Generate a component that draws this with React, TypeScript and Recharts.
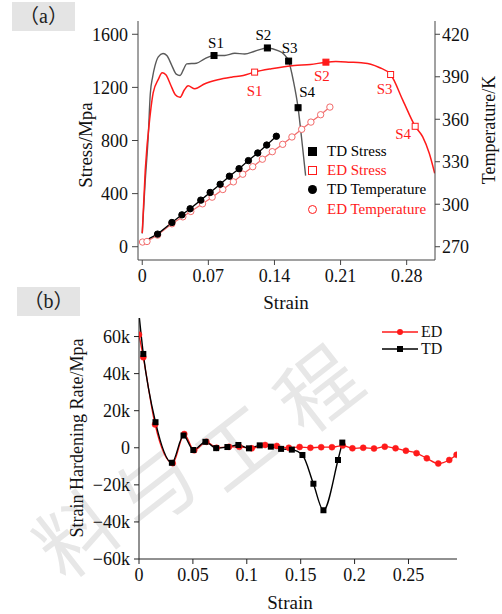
import React from 'react';
import { LineChart, Line, XAxis, YAxis, Legend } from 'recharts';

// ---- panel (a): stress / temperature vs strain ----
const tdStressStrain = [0, 0.003, 0.0063, 0.0085, 0.011, 0.0134, 0.017, 0.022, 0.026, 0.031, 0.036, 0.04, 0.044, 0.047, 0.0574, 0.066, 0.076, 0.0874, 0.098, 0.1085, 0.119, 0.1325, 0.1437, 0.15, 0.155, 0.16, 0.165, 0.169, 0.173];
const tdStressValues = [100, 480, 827, 1150, 1280, 1360, 1430, 1455, 1440, 1370, 1300, 1290, 1340, 1377, 1382, 1415, 1440, 1440, 1457, 1452, 1472, 1497, 1477, 1450, 1398, 1250, 1047, 800, 535];
const tdStressTags = ['', '', '', '', '', '', '', '', '', '', '', '', '', '', '', '', 'S1', '', '', '', '', 'S2', '', '', 'S3', '', 'S4', '', ''];

const edStressStrain = [0, 0.0032, 0.0085, 0.0116, 0.017, 0.0211, 0.025, 0.03, 0.035, 0.04, 0.0445, 0.0486, 0.0557, 0.0663, 0.08, 0.0944, 0.107, 0.119, 0.1367, 0.161, 0.178, 0.1945, 0.205, 0.22, 0.232, 0.242, 0.251, 0.263, 0.276, 0.289, 0.297, 0.304, 0.3097];
const edStressValues = [103, 577, 1000, 1160, 1260, 1310, 1295, 1220, 1145, 1125, 1180, 1212, 1190, 1227, 1257, 1277, 1290, 1315, 1340, 1365, 1372, 1390, 1395, 1390, 1385, 1375, 1350, 1297, 1102, 907, 827, 702, 552];
const edStressTags = ['', '', '', '', '', '', '', '', '', '', '', '', '', '', '', '', '', 'S1', '', '', '', 'S2', '', '', '', '', '', 'S3', '', 'S4', '', '', ''];

const tdTempStrain = [0.0003, 0.0162, 0.0314, 0.042, 0.0507, 0.062, 0.0719, 0.0825, 0.0923, 0.1025, 0.1124, 0.1223, 0.1318, 0.142];
const tdTempValues = [273.3, 278.9, 287.1, 292.5, 296.8, 302.9, 308.3, 314.1, 319.8, 325.1, 330.8, 336.2, 341.8, 348.0];

const edTempStrain = [0.0003, 0.005, 0.0162, 0.0314, 0.043, 0.0514, 0.0638, 0.074, 0.0853, 0.0965, 0.1064, 0.117, 0.1272, 0.1377, 0.1487, 0.1585, 0.1688, 0.1786, 0.1889, 0.1987];
const edTempValues = [273.3, 273.7, 278.2, 286.2, 291.1, 294.9, 300.3, 305.0, 310.4, 315.8, 321.2, 326.5, 331.8, 337.1, 342.3, 347.5, 352.9, 358.0, 363.2, 368.6];

const strainTicksA = [0, 0.07, 0.14, 0.21, 0.28];
const strainMinorA = [0.035, 0.105, 0.175, 0.245];
const stressTicks = [0, 400, 800, 1200, 1600];
const stressMinor = [200, 600, 1000, 1400];
const tempTicks = [270, 300, 330, 360, 390, 420];
const tempMinor = [285, 315, 345, 375, 405];

// ---- panel (b): strain hardening rate ----
const edRateStrain = [0, 0.004, 0.0149, 0.0313, 0.042, 0.0512, 0.0625, 0.072, 0.0835, 0.093, 0.1046, 0.117, 0.1278, 0.139, 0.149, 0.159, 0.169, 0.179, 0.189, 0.198, 0.208, 0.218, 0.228, 0.238, 0.2476, 0.2575, 0.267, 0.2776, 0.2878, 0.2946];
const edRateValues = [61000, 48800, 12600, -8300, 7400, -1400, 3200, 0, 500, 500, -300, 1500, 1000, 0, 400, 0, 300, 300, 1200, -300, 0, -400, 600, -300, -1600, -2900, -5700, -8500, -6600, -3800];

const tdRateStrain = [0, 0.004, 0.0153, 0.0305, 0.0413, 0.0504, 0.0616, 0.0716, 0.082, 0.0922, 0.102, 0.112, 0.1223, 0.1318, 0.1418, 0.1516, 0.1618, 0.1711, 0.1846, 0.1886];
const tdRateValues = [72000, 50600, 13800, -8100, 6600, -1200, 3200, -200, 400, 1500, -300, 1300, 600, -600, -1000, -3900, -19400, -33700, -6600, 2800];

const strainTicksB = [0, 0.05, 0.1, 0.15, 0.2, 0.25];
const strainMinorB = [0.025, 0.075, 0.125, 0.175, 0.225, 0.275];
const rateTicks = [-60000, -40000, -20000, 0, 20000, 40000, 60000];
const rateMinor = [-50000, -30000, -10000, 10000, 30000, 50000];

const SERIF = '"Liberation Serif", "Times New Roman", serif';
const RED = '#ff1a1a';

const zip = (xs: number[], ys: number[], tags?: string[]) =>
  xs.map((x, i) => ({ x, y: ys[i], tag: tags ? tags[i] : '' }));

const tdStress = zip(tdStressStrain, tdStressValues, tdStressTags);
const edStress = zip(edStressStrain, edStressValues, edStressTags);
const tdTemp = zip(tdTempStrain, tdTempValues);
const edTemp = zip(edTempStrain, edTempValues);
const edRate = zip(edRateStrain, edRateValues);
const tdRate = zip(tdRateStrain, tdRateValues);

// where the S-labels sit relative to their marker
const tdTagOffset: Record<string, [number, number]> = { S1: [2, -13], S2: [-4, -13], S3: [1, -13], S4: [9, -16] };
const edTagOffset: Record<string, [number, number]> = { S1: [0, 19], S2: [-4, 14], S3: [-6, 14], S4: [-12, 8] };

const tagDot = (color: string, offsets: Record<string, [number, number]>, filled: (t: string) => boolean) => (p: any) => {
  const tag = p.payload && p.payload.tag;
  if (!tag) return <g key={`e${p.index}`} />;
  const [dx, dy] = offsets[tag];
  const fill = filled(tag);
  return (
    <g key={`t${p.index}`}>
      <rect x={p.cx - 3} y={p.cy - 3} width={6} height={6} fill={fill ? color : '#fff'} stroke={color} strokeWidth={1} />
      <text x={p.cx + dx} y={p.cy + dy} textAnchor="middle" dominantBaseline="central" fontFamily={SERIF} fontSize={15} fill={color}>
        {tag}
      </text>
    </g>
  );
};

const circleDot = (fill: string, stroke: string, skipFirst: boolean) => (p: any) => {
  if (skipFirst && p.index === 0) return <g key={`e${p.index}`} />;
  return <circle key={`c${p.index}`} cx={p.cx} cy={p.cy} r={3.2} fill={fill} stroke={stroke} strokeWidth={1} />;
};

const tickStyle = { fill: '#111', fontSize: 18, fontFamily: SERIF };
const fmtRate = (v: number) => (v === 0 ? '0' : `${v < 0 ? '\u2212' : ''}${Math.abs(v) / 1000}k`);

const TopLegend = () => {
  const rows = [
    { label: 'TD Stress', color: '#000', icon: <rect x={1} y={1} width={9} height={9} fill="#000" /> },
    { label: 'ED Stress', color: RED, icon: <rect x={1.5} y={1.5} width={8} height={8} fill="#fff" stroke={RED} /> },
    { label: 'TD Temperature', color: '#000', icon: <circle cx={5.5} cy={5.5} r={4.5} fill="#000" /> },
    { label: 'ED Temperature', color: RED, icon: <circle cx={5.5} cy={5.5} r={4} fill="#fff" stroke={RED} /> },
  ];
  return (
    <div style={{ fontFamily: SERIF, fontSize: 15 }}>
      {rows.map((r) => (
        <div key={r.label} style={{ display: 'flex', alignItems: 'center', height: 19.3 }}>
          <svg width={11} height={11} style={{ marginRight: 9 }}>{r.icon}</svg>
          <span style={{ color: r.color, whiteSpace: 'nowrap' }}>{r.label}</span>
        </div>
      ))}
    </div>
  );
};

const BottomLegend = () => {
  const rows = [
    { label: 'ED', color: RED, icon: <circle cx={18} cy={6} r={3} fill={RED} /> },
    { label: 'TD', color: '#000', icon: <rect x={15} y={3} width={6} height={6} fill="#000" /> },
  ];
  return (
    <div style={{ fontFamily: SERIF, fontSize: 16 }}>
      {rows.map((r) => (
        <div key={r.label} style={{ display: 'flex', alignItems: 'center', height: 17.3 }}>
          <svg width={36} height={12} style={{ marginRight: 3 }}>
            <line x1={0} y1={6} x2={36} y2={6} stroke={r.color} strokeWidth={1.3} />
            {r.icon}
          </svg>
          <span style={{ color: '#111' }}>{r.label}</span>
        </div>
      ))}
    </div>
  );
};

const Watermark = () => (
  <svg width={502} height={614} style={{ position: 'absolute', left: 0, top: 0 }}>
    {[
      ['料', 74, 530],
      ['与', 152, 484],
      ['工', 234, 443],
      ['程', 315, 385],
    ].map(([ch, x, y]) => (
      <text
        key={ch as string}
        x={x as number}
        y={y as number}
        transform={`rotate(-38 ${x} ${y})`}
        textAnchor="middle"
        dominantBaseline="central"
        fontFamily='"Noto Sans CJK SC", sans-serif'
        fontSize={80}
        fill="#e7e7e7"
      >
        {ch}
      </text>
    ))}
  </svg>
);

const PanelTag = ({ x, y, w, h, text }: { x: number; y: number; w: number; h: number; text: string }) => (
  <div
    style={{
      position: 'absolute', left: x, top: y, width: w, height: h, background: '#e4e4e4',
      fontFamily: '"Liberation Serif", "Noto Sans CJK SC", serif', fontSize: 20, lineHeight: `${h}px`, textAlign: 'center', color: '#222',
    }}
  >
    {text}
  </div>
);

const VTitle = ({ x, y, text, size }: { x: number; y: number; text: string; size: number }) => (
  <text x={x} y={y} transform={`rotate(-90 ${x} ${y})`} textAnchor="middle" dominantBaseline="central" fontFamily={SERIF} fontSize={size} fill="#111">
    {text}
  </text>
);

export default function App() {
  return (
    <div style={{ position: 'absolute', left: 0, top: 0, width: 502, height: 614, background: '#fff', overflow: 'hidden' }}>
      <Watermark />

      <div style={{ position: 'absolute', left: 0, top: 0 }}>
        <LineChart width={502} height={300} margin={{ top: 21, right: 12, bottom: 10, left: 78 }}>
          <XAxis xAxisId="xm" type="number" dataKey="x" domain={[-0.0045, 0.31]} allowDataOverflow ticks={strainMinorA} tick={false} tickSize={3} axisLine={false} stroke="#444" height={0} />
          <XAxis xAxisId="x" type="number" dataKey="x" domain={[-0.0045, 0.31]} allowDataOverflow ticks={strainTicksA} tick={tickStyle} tickSize={5} tickMargin={4} stroke="#444" height={30} />
          <XAxis xAxisId="xt" orientation="top" mirror type="number" dataKey="x" domain={[-0.0045, 0.31]} allowDataOverflow ticks={[...strainTicksA, ...strainMinorA]} tick={false} tickSize={4} stroke="#444" height={0} />
          <YAxis yAxisId="lm" type="number" domain={[-100, 1700]} allowDataOverflow ticks={stressMinor} tick={false} tickSize={3} axisLine={false} stroke="#444" width={0} />
          <YAxis yAxisId="l" type="number" domain={[-100, 1700]} allowDataOverflow ticks={stressTicks} tick={tickStyle} tickSize={6} tickMargin={4} stroke="#444" width={60} />
          <YAxis yAxisId="rm" orientation="right" type="number" domain={[260.625, 429.375]} allowDataOverflow ticks={tempMinor} tick={false} tickSize={3} axisLine={false} stroke="#444" width={0} />
          <YAxis yAxisId="r" orientation="right" type="number" domain={[260.625, 429.375]} allowDataOverflow ticks={tempTicks} tick={tickStyle} tickSize={5} tickMargin={2} stroke="#444" width={55} />

          <Line xAxisId="x" yAxisId="r" data={edTemp} dataKey="y" type="linear" stroke="#f26b6b" strokeWidth={1.2} dot={circleDot('#fff', '#f26b6b', false)} isAnimationActive={false} />
          <Line xAxisId="x" yAxisId="r" data={tdTemp} dataKey="y" type="linear" stroke="#000" strokeWidth={1.3} dot={circleDot('#000', '#000', true)} isAnimationActive={false} />
          <Line xAxisId="x" yAxisId="l" data={tdStress} dataKey="y" type="monotone" stroke="#5a5a5a" strokeWidth={1.4} dot={tagDot('#000', tdTagOffset, () => true)} isAnimationActive={false} />
          <Line xAxisId="x" yAxisId="l" data={edStress} dataKey="y" type="monotone" stroke={RED} strokeWidth={1.5} dot={tagDot(RED, edTagOffset, (t) => t === 'S2')} isAnimationActive={false} />

          <Legend layout="vertical" align="center" verticalAlign="middle" content={<TopLegend />} wrapperStyle={{ left: 307, top: 141.5, width: 140, height: 80 }} />
        </LineChart>
      </div>

      <div style={{ position: 'absolute', left: 0, top: 300 }}>
        <LineChart width={502} height={314} margin={{ top: 18, right: 45, bottom: 25, left: 69 }}>
          <XAxis xAxisId="xm" type="number" dataKey="x" domain={[0, 0.295]} allowDataOverflow ticks={strainMinorB} tick={false} tickSize={3} axisLine={false} stroke="#222" height={0} />
          <XAxis xAxisId="x" type="number" dataKey="x" domain={[0, 0.295]} allowDataOverflow ticks={strainTicksB} tick={tickStyle} tickSize={5} tickMargin={4} stroke="#222" height={30} />
          <XAxis xAxisId="xt" orientation="top" mirror type="number" domain={[0, 0.295]} allowDataOverflow tick={false} tickLine={false} stroke="#222" height={0} />
          <YAxis yAxisId="lm" type="number" domain={[-60000, 70000]} allowDataOverflow ticks={rateMinor} tick={false} tickSize={3} axisLine={false} stroke="#222" width={0} />
          <YAxis yAxisId="l" type="number" domain={[-60000, 70000]} allowDataOverflow ticks={rateTicks} tick={tickStyle} tickSize={5} tickMargin={4} tickFormatter={fmtRate} stroke="#222" width={70} />
          <YAxis yAxisId="r" orientation="right" type="number" domain={[-60000, 70000]} allowDataOverflow tick={false} tickLine={false} stroke="#222" width={0} />

          <Line xAxisId="x" yAxisId="l" data={edRate} dataKey="y" type="monotone" stroke={RED} strokeWidth={1.3} dot={{ r: 3, fill: RED, stroke: RED, strokeWidth: 0.5 }} isAnimationActive={false} />
          <Line
            xAxisId="x" yAxisId="l" data={tdRate} dataKey="y" type="monotone" stroke="#000" strokeWidth={1.4}
            dot={(p: any) => (p.index === 0 ? <g key="e0" /> : <rect key={`s${p.index}`} x={p.cx - 3} y={p.cy - 3} width={6} height={6} fill="#000" />)}
            isAnimationActive={false}
          />

          <Legend layout="vertical" align="center" verticalAlign="middle" content={<BottomLegend />} wrapperStyle={{ left: 382, top: 23, width: 70, height: 36 }} />
        </LineChart>
      </div>

      <svg width={502} height={614} style={{ position: 'absolute', left: 0, top: 0, pointerEvents: 'none' }}>
        <VTitle x={85} y={145} text="Stress/Mpa" size={19} />
        <VTitle x={489} y={130} text="Temperature/K" size={18} />
        <text x={286} y={302} textAnchor="middle" dominantBaseline="central" fontFamily={SERIF} fontSize={19} fill="#111">Strain</text>
        <VTitle x={77} y={438} text="Strain Hardening Rate/Mpa" size={18} />
        <text x={290} y={602} textAnchor="middle" dominantBaseline="central" fontFamily={SERIF} fontSize={19} fill="#111">Strain</text>
      </svg>

      <PanelTag x={12} y={2} w={63} h={29} text="（a）" />
      <PanelTag x={17} y={287} w={63} h={29} text="（b）" />
    </div>
  );
}
